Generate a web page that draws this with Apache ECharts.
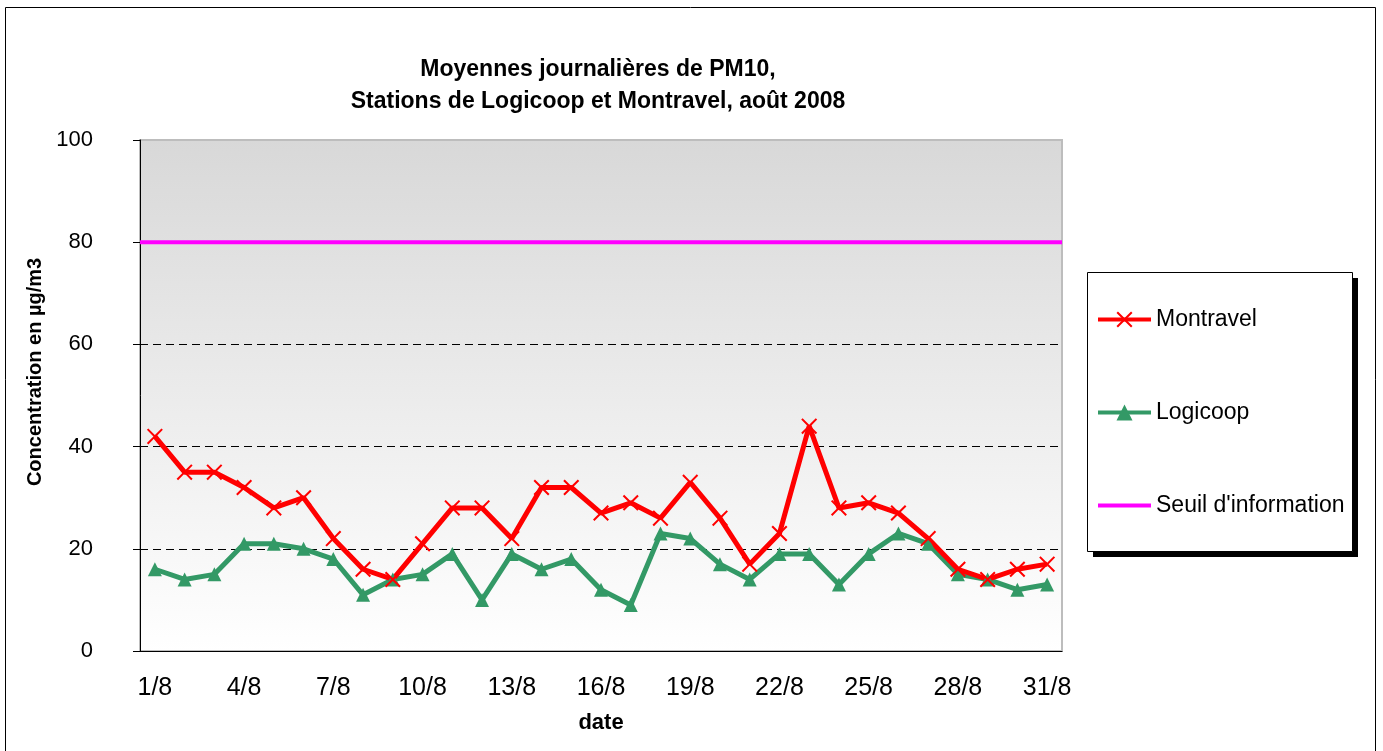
<!DOCTYPE html>
<html>
<head>
<meta charset="utf-8">
<title>PM10 août 2008</title>
<script src="https://cdn.jsdelivr.net/npm/echarts@6/dist/echarts.min.js"></script>
<style>
  html, body { margin: 0; padding: 0; background: #fff; }
  #chart { width: 1383px; height: 751px; }
</style>
</head>
<body>
<div id="chart"></div>
<script>
  // jours du mois d'août
  var days = ['1/8', '2/8', '3/8', '4/8', '5/8', '6/8', '7/8', '8/8', '9/8', '10/8',
    '11/8', '12/8', '13/8', '14/8', '15/8', '16/8', '17/8', '18/8', '19/8', '20/8',
    '21/8', '22/8', '23/8', '24/8', '25/8', '26/8', '27/8', '28/8', '29/8', '30/8', '31/8'];
  var montravel = [42, 35, 35, 32, 28, 30, 22, 16, 14, 21, 28, 28, 22, 32, 32, 27,
    29, 26, 33, 26, 17, 23, 44, 28, 29, 27, 22, 16, 14, 16, 17];
  var logicoop = [16, 14, 15, 21, 21, 20, 18, 11, 14, 15, 19, 10, 19, 16, 18, 12,
    9, 23, 22, 17, 14, 19, 19, 13, 19, 23, 21, 15, 14, 12, 13];
  // seuil d'information : 80 µg/m3 tout le mois
  var seuil = [80, 80, 80, 80, 80, 80, 80, 80, 80, 80, 80, 80, 80, 80, 80, 80,
    80, 80, 80, 80, 80, 80, 80, 80, 80, 80, 80, 80, 80, 80, 80];
  var yTicks = [0, 20, 40, 60, 80, 100];

  var font = 'Liberation Sans, Arial, sans-serif';
  // croix fine (symbole x d'Excel)
  var crossPath = 'path://M0,0.9L0.9,0L5,4.1L9.1,0L10,0.9L5.9,5L10,9.1L9.1,10L5,5.9L0.9,10L0,9.1L4.1,5Z';

  var chartDom = document.getElementById('chart');
  var myChart = echarts.init(chartDom);

  var option = {
    animation: false,
    textStyle: { fontFamily: font, color: '#000' },
    title: {
      text: 'Moyennes journalières de PM10,\nStations de Logicoop et Montravel, août 2008',
      left: 593,
      top: 49,
      textAlign: 'center',
      textStyle: { fontFamily: font, fontSize: 23, fontWeight: 'bold', color: '#000', lineHeight: 32 }
    },
    graphic: [
      {
        type: 'rect', z: -10,
        shape: { x: 5.5, y: 7.5, width: 1370, height: 750 },
        style: { fill: 'none', stroke: '#000', lineWidth: 1 }
      },
      {
        type: 'rect', z: -5,
        shape: { x: 1093, y: 278, width: 265, height: 279 },
        style: { fill: '#000' }
      },
      {
        type: 'rect', z: -4,
        shape: { x: 1087.5, y: 272.5, width: 265, height: 279 },
        style: { fill: '#fff', stroke: '#000', lineWidth: 1 }
      }
    ],
    legend: {
      orient: 'vertical',
      left: 1096,
      top: 308,
      padding: 0,
      itemWidth: 53,
      itemHeight: 20,
      itemGap: 70,
      data: [
        'Montravel',
        'Logicoop',
        { name: "Seuil d'information", icon: 'path://M0,0H53V4H0Z' }
      ],
      lineStyle: { width: 4 },
      textStyle: { fontFamily: font, fontSize: 23, color: '#000' }
    },
    grid: {
      left: 140,
      top: 140,
      width: 922,
      height: 511,
      outerBoundsMode: 'none',
      show: true,
      borderColor: '#bdbdbd',
      borderWidth: 2,
      backgroundColor: new echarts.graphic.LinearGradient(0, 0, 0, 1, [
        { offset: 0, color: '#d8d8d8' },
        { offset: 1, color: '#ffffff' }
      ])
    },
    xAxis: [
      {
        type: 'category',
        data: days,
        boundaryGap: true,
        name: 'date',
        nameLocation: 'middle',
        nameGap: 61,
        nameTextStyle: { fontFamily: font, fontSize: 22, fontWeight: 'bold', color: '#000' },
        axisLine: { lineStyle: { color: '#000', width: 1 } },
        axisTick: { interval: 2, length: 7, lineStyle: { color: '#000' } },
        axisLabel: { interval: 2, fontSize: 25, margin: 25, color: '#000', fontFamily: font },
        splitLine: { show: false }
      },
      {
        type: 'category',
        data: days,
        boundaryGap: false,
        show: false
      }
    ],
    yAxis: {
      type: 'value',
      min: yTicks[0],
      max: yTicks[yTicks.length - 1],
      interval: 20,
      name: 'Concentration en µg/m3',
      nameLocation: 'middle',
      nameGap: 95,
      nameTextStyle: {
        fontFamily: font, fontSize: 20, fontWeight: 'bold', color: '#000',
        padding: [0, 0, 0, 47]
      },
      axisLine: { show: true, lineStyle: { color: '#000', width: 1 } },
      axisTick: { show: true, length: 7, lineStyle: { color: '#000' } },
      axisLabel: { fontSize: 22, margin: 47, color: '#000', fontFamily: font },
      splitLine: {
        show: true,
        showMinLine: false,
        showMaxLine: false,
        lineStyle: { color: '#000', width: 1, type: [8, 5] }
      }
    },
    series: [
      {
        name: "Seuil d'information",
        type: 'line',
        xAxisIndex: 1,
        data: seuil,
        symbol: 'none',
        showSymbol: false,
        color: '#ff00ff',
        lineStyle: { color: '#ff00ff', width: 4 }
      },
      {
        name: 'Logicoop',
        type: 'line',
        data: logicoop,
        symbol: 'triangle',
        symbolSize: 14,
        color: '#339966',
        lineStyle: { color: '#339966', width: 5 },
        itemStyle: { color: '#339966' }
      },
      {
        name: 'Montravel',
        type: 'line',
        data: montravel,
        symbol: crossPath,
        symbolSize: 16,
        color: '#ff0000',
        lineStyle: { color: '#ff0000', width: 5 },
        itemStyle: { color: '#ff0000' }
      }
    ]
  };

  myChart.setOption(option);
</script>
</body>
</html>
